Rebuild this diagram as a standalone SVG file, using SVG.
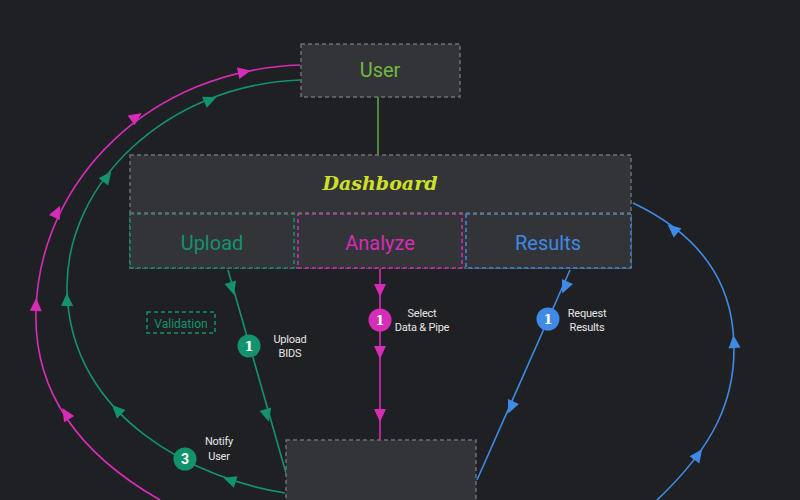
<svg xmlns="http://www.w3.org/2000/svg" width="800" height="500" viewBox="0 0 800 500">
<style>
.box{fill:#333438;stroke:#6e6f72;stroke-width:1.5;stroke-dasharray:4 3}
.lbl{font-family:Roboto,"Liberation Sans",sans-serif;font-size:20px;text-anchor:middle}
.note{font-family:Roboto,"Liberation Sans",sans-serif;font-size:11px;fill:#e6e6e6;text-anchor:middle;letter-spacing:-0.2px}
.num{font-family:"DejaVu Serif",serif;font-weight:bold;font-size:13px;fill:#fff;text-anchor:middle}
.ln{fill:none;stroke-width:1.6}
</style>
<defs>
<path id="ah" d="M7,0 L-6,-6 L-6,6 Z"/>
</defs>
<rect width="800" height="500" fill="#1f2024"/>

<g id="connectors">
<path class="ln" stroke="#5aa43c" d="M378,97 L378,155"/>
<path class="ln" stroke="#d62cb6" d="M380,269 L380,440"/>
<path class="ln" stroke="#12936c" d="M228,270 L286,473"/>
<path class="ln" stroke="#3f8ae6" d="M570,270 L477,480"/>
<path class="ln" stroke="#d62cb6" d="M300,65 C150,70 40,180 36,310 C33,400 90,460 160,500"/>
<path class="ln" stroke="#12936c" d="M285,493 C200,480 70,420 67,290 C65,185 165,85 300,80"/>
<path class="ln" stroke="#3f8ae6" d="M657,500 C710,450 740,400 733,330 C727,270 690,230 633,203"/>
<g fill="#d62cb6">
<use href="#ah" transform="translate(380,290) rotate(90)"/>
<use href="#ah" transform="translate(380,352) rotate(90)"/>
<use href="#ah" transform="translate(380,415) rotate(90)"/>
<use href="#ah" transform="translate(244,72) rotate(-12)"/>
<use href="#ah" transform="translate(136,117) rotate(-35)"/>
<use href="#ah" transform="translate(57,212) rotate(-65)"/>
<use href="#ah" transform="translate(36,305) rotate(-88)"/>
<use href="#ah" transform="translate(66,414) rotate(-122)"/>
</g>
<g fill="#12936c">
<use href="#ah" transform="translate(232,288) rotate(74)"/>
<use href="#ah" transform="translate(267,415) rotate(74)"/>
<use href="#ah" transform="translate(230,480) rotate(-161)"/>
<use href="#ah" transform="translate(117,410) rotate(-135)"/>
<use href="#ah" transform="translate(67,300) rotate(-91)"/>
<use href="#ah" transform="translate(107,177) rotate(-53)"/>
<use href="#ah" transform="translate(210,100) rotate(-23)"/>
</g>
<g fill="#3f8ae6">
<use href="#ah" transform="translate(565,287) rotate(114)"/>
<use href="#ah" transform="translate(511,407) rotate(114)"/>
<use href="#ah" transform="translate(698,455) rotate(-54)"/>
<use href="#ah" transform="translate(734,342) rotate(-95)"/>
<use href="#ah" transform="translate(673,229) rotate(-140)"/>
</g>
</g>

<g id="user">
<rect class="box" x="301" y="44" width="159" height="53"/>
<text class="lbl" x="380" y="77" fill="#74b843">User</text>
</g>

<g id="dashboard">
<rect class="box" x="130" y="155" width="501" height="113"/>
<text x="380" y="190" fill="#cde02a" font-family="'DejaVu Serif',serif" font-style="italic" font-weight="bold" font-size="19" text-anchor="middle">Dashboard</text>
</g>
<g id="upload">
<rect x="130" y="214" width="164" height="54" fill="#333438" stroke="#12936c" stroke-width="1.5" stroke-dasharray="4 3"/>
<text class="lbl" x="212" y="250" fill="#12936c">Upload</text>
</g>
<g id="analyze">
<rect x="298" y="214" width="164" height="54" fill="#333438" stroke="#d62cb6" stroke-width="1.5" stroke-dasharray="4 3"/>
<text class="lbl" x="380" y="250" fill="#d62cb6">Analyze</text>
</g>
<g id="results">
<rect x="466" y="214" width="165" height="54" fill="#333438" stroke="#3f8ae6" stroke-width="1.5" stroke-dasharray="4 3"/>
<text class="lbl" x="548" y="250" fill="#3f8ae6">Results</text>
</g>
<line x1="130" y1="213" x2="631" y2="213" stroke="#6e6f72" stroke-width="1.5" stroke-dasharray="4 3"/>

<g id="validation">
<rect x="147" y="312" width="68" height="21" fill="none" stroke="#12936c" stroke-width="1.5" stroke-dasharray="4 3"/>
<text x="181" y="327.5" fill="#12936c" font-family="Roboto,'Liberation Sans',sans-serif" font-size="12" text-anchor="middle">Validation</text>
</g>

<g id="bottom">
<rect class="box" x="286" y="440" width="190" height="70"/>
</g>

<g id="step-upload">
<circle cx="249" cy="346" r="11.5" fill="#12936c"/>
<text class="num" x="249" y="351">1</text>
<text class="note" x="290" y="343">Upload</text>
<text class="note" x="290" y="357">BIDS</text>
</g>
<g id="step-analyze">
<circle cx="380" cy="320" r="11.5" fill="#d62cb6"/>
<text class="num" x="380" y="325">1</text>
<text class="note" x="422" y="317">Select</text>
<text class="note" x="422" y="331">Data &amp; Pipe</text>
</g>
<g id="step-results">
<circle cx="548" cy="319" r="11.5" fill="#3f8ae6"/>
<text class="num" x="548" y="324">1</text>
<text class="note" x="587" y="317">Request</text>
<text class="note" x="587" y="331">Results</text>
</g>
<g id="step-notify">
<circle cx="185" cy="459" r="11.5" fill="#12936c"/>
<text x="185" y="464" fill="#fff" font-family="Roboto,'Liberation Sans',sans-serif" font-weight="bold" font-size="14" text-anchor="middle">3</text>
<text class="note" x="219" y="445">Notify</text>
<text class="note" x="219" y="460">User</text>
</g>
</svg>
